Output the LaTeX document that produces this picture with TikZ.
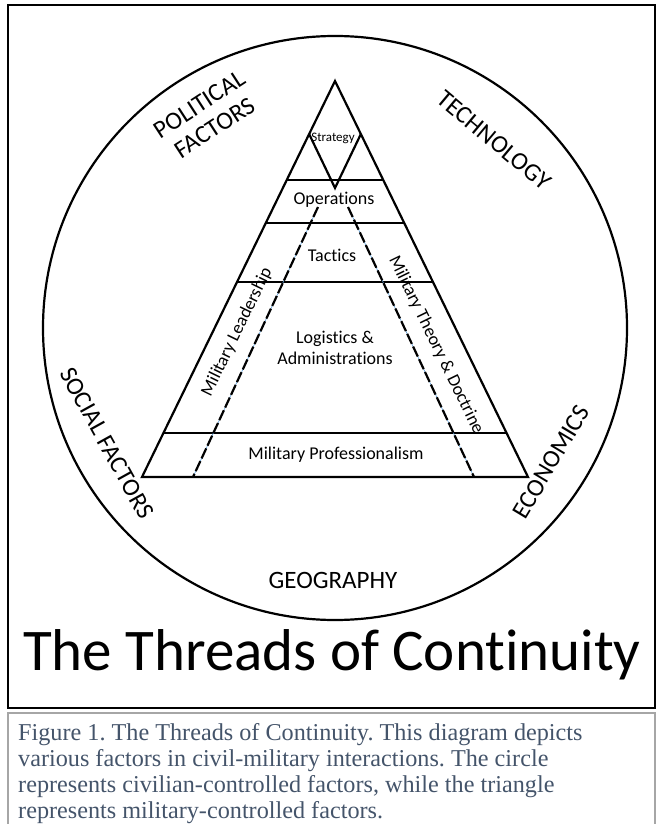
\documentclass[tikz,border=0pt]{standalone}
\usepackage{fontspec}
\setmainfont{Carlito}[Ligatures=NoCommon]
\newfontfamily\capfont{Liberation Serif}
\usetikzlibrary{calc}
\definecolor{capblue}{HTML}{44546A}
\definecolor{threadblue}{HTML}{5B9BD5}
\frenchspacing

\begin{document}
\begin{tikzpicture}[x=1pt,y=-1pt,
	edge/.style={line width=2.2pt},
	thread/.style={line width=2.2pt,dash pattern=on 11pt off 3pt},
	level/.style={font=\fontsize{18}{21}\selectfont,align=center,inner sep=0},
	factor/.style={font=\fontsize{25}{28}\selectfont,align=center,inner sep=0}]
	\useasboundingbox (0,0) rectangle (660,824);
	\draw[line width=2pt] (8,5) rectangle (655,708);
	\draw[gray!70,line width=1.6pt] (8,713) rectangle (655,830);
	\draw[edge] (335,328) circle (292);
	\coordinate (top) at (335,81);
	\coordinate (bl) at (142,477);
	\coordinate (br) at (528,477);
	\draw[edge] (top) -- (bl) -- (br) -- cycle;
	\draw[edge] ($(top)!0.25!(bl)$) -- ($(top)!0.25!(br)$);
	\draw[edge] ($(top)!0.359!(bl)$) -- ($(top)!0.359!(br)$);
	\draw[edge] ($(top)!0.508!(bl)$) -- ($(top)!0.508!(br)$);
	\draw[edge] ($(top)!0.889!(bl)$) -- ($(top)!0.889!(br)$);
	\draw[edge] ($(top)!0.134!(bl)$) -- (335,188) -- ($(top)!0.134!(br)$);
	\coordinate (lt) at (318,207);
	\coordinate (lb) at (193,477);
	\coordinate (rt) at (348,207);
	\coordinate (rb) at (474,477);
	\draw[threadblue,line width=0.6pt] (lt) -- (lb) (rt) -- (rb);
	\draw[thread] (lt) -- (lb);
	\draw[thread] (rt) -- (rb);
	\node[level,font=\fontsize{13}{15}\selectfont] (strat) at (333,138) {Strategy};
	\node[level] (ops) at (334,200) {Operations};
	\node[level] (tac) at (332,255) {Tactics};
	\node[level] (log) at (335,348) {Logistics \&\\Administrations};
	\node[level] (prof) at (336,455) {Military Professionalism};
	\node[level,rotate=64] (lead) at (237,332) {Military Leadership};
	\node[level,rotate=-64] (doct) at (436,345) {Military Theory \& Doctrine};
	\node[factor,rotate=33] (pol) at (207,116) {POLITICAL\\FACTORS};
	\node[factor,rotate=-40] (tech) at (494,140) {TECHNOLOGY};
	\node[factor,rotate=-61] (soc) at (107,443) {SOCIAL FACTORS};
	\node[factor,rotate=59] (econ) at (551,462) {ECONOMICS};
	\node[factor] (geo) at (333,580) {GEOGRAPHY};
	\node[inner sep=0,font=\fontsize{59}{65}\selectfont] (title) at (332,655) {The Threads of Continuity};
	\node[anchor=north west,inner sep=0,align=left,text=capblue,font=\capfont\fontsize{24.2}{26}\selectfont] (cap) at (18,723) {Figure 1. The Threads of Continuity. This diagram depicts\\various factors in civil-military interactions. The circle\\represents civilian-controlled factors, while the triangle\\represents military-controlled factors.};
\end{tikzpicture}
\end{document}
